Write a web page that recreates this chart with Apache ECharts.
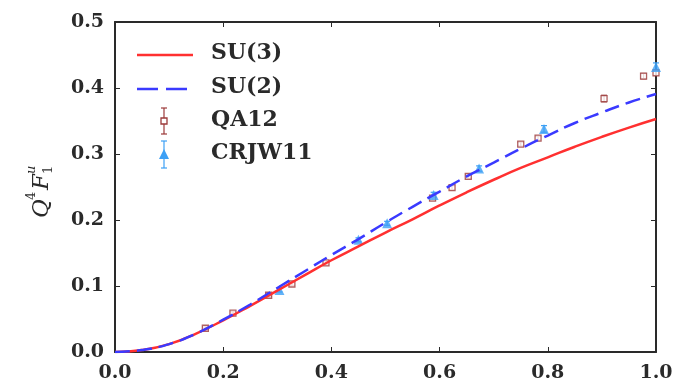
<!DOCTYPE html>
<html>
<head>
<meta charset="utf-8">
<script src="https://cdn.jsdelivr.net/npm/echarts@6/dist/echarts.min.js"></script>
<style>
  html, body { margin: 0; padding: 0; background: #fff; }
  #chart { width: 677px; height: 386px; }
</style>
</head>
<body>
<div id="chart"></div>
<script>
// Model curves sampled on a common grid of Q^2 values
const curveX = [0, 0.05, 0.1, 0.15, 0.2, 0.25, 0.3, 0.35, 0.4, 0.45, 0.5, 0.55, 0.6, 0.65, 0.7, 0.75, 0.8, 0.85, 0.9, 0.95, 1.0];
const su3 = [0, 0.003, 0.012, 0.028, 0.048, 0.070, 0.093, 0.116, 0.139, 0.160, 0.181, 0.201, 0.222, 0.242, 0.261, 0.279, 0.295, 0.311, 0.326, 0.340, 0.353];
const su2 = [0, 0.003, 0.012, 0.028, 0.049, 0.072, 0.097, 0.122, 0.147, 0.171, 0.196, 0.220, 0.243, 0.266, 0.287, 0.308, 0.328, 0.347, 0.363, 0.378, 0.391];

// Lattice results
const qa12X = [0.167, 0.218, 0.284, 0.327, 0.390, 0.587, 0.623, 0.653, 0.750, 0.782, 0.904, 0.977, 1.0];
const qa12Y = [0.036, 0.059, 0.086, 0.103, 0.135, 0.233, 0.249, 0.266, 0.315, 0.324, 0.384, 0.418, 0.423];
const qa12Err = [0.002, 0.002, 0.002, 0.002, 0.003, 0.003, 0.003, 0.003, 0.003, 0.003, 0.005, 0.004, 0.004];

const crjwX = [0.304, 0.450, 0.503, 0.589, 0.673, 0.793, 1.0];
const crjwY = [0.094, 0.170, 0.195, 0.238, 0.278, 0.338, 0.432];
const crjwErr = [0.003, 0.003, 0.003, 0.004, 0.004, 0.005, 0.006];

const xTicks = [0, 0.2, 0.4, 0.6, 0.8, 1.0];
const yTicks = [0, 0.1, 0.2, 0.3, 0.4, 0.5];

const RED = '#ff3030';
const BLUE = '#3a3aff';
const BROWN = '#9c3a3a';
const LBLUE = '#3da0f5';
const AXIS = '#2a2a2a';
const TEXT = '#2a2a2a';
const FONT = 'DejaVu Serif';

const zip = (a, b) => a.map((v, i) => [v, b[i]]);

function errorBars(color) {
  return function (params, api) {
    const x = api.value(0), y = api.value(1), e = api.value(2);
    const top = api.coord([x, y + e]);
    const bot = api.coord([x, y - e]);
    const cap = 3;
    const style = { stroke: color, lineWidth: 1.2 };
    return {
      type: 'group',
      children: [
        { type: 'line', shape: { x1: top[0], y1: top[1], x2: bot[0], y2: bot[1] }, style },
        { type: 'line', shape: { x1: top[0] - cap, y1: top[1], x2: top[0] + cap, y2: top[1] }, style },
        { type: 'line', shape: { x1: bot[0] - cap, y1: bot[1], x2: bot[0] + cap, y2: bot[1] }, style }
      ]
    };
  };
}

const fmt = v => v.toFixed(1);
const grid = { left: 115, right: 21, top: 22, bottom: 34 };

const chart = echarts.init(document.getElementById('chart'), null, { renderer: 'canvas' });

const axisCommon = {
  type: 'value',
  min: 0,
  splitLine: { show: false },
  axisLine: { show: true, onZero: false, lineStyle: { color: AXIS, width: 2 } },
  axisTick: { show: true, inside: true, length: 5, lineStyle: { color: AXIS, width: 1 } }
};

// Legend drawn as graphic elements (line samples, error-bar markers and labels)
const legendX = 137, legendTextX = 211;
const legendRows = [55, 89, 122, 155];
const legendNames = ['SU(3)', 'SU(2)', 'QA12', 'CRJW11'];
const legendGraphics = [];
legendRows.forEach((y, i) => {
  legendGraphics.push({
    type: 'text', left: legendTextX, top: y - 13,
    style: { text: legendNames[i], font: 'bold 22px "' + FONT + '"', fill: TEXT }
  });
});
legendGraphics.push(
  { type: 'line', shape: { x1: legendX, y1: legendRows[0], x2: legendX + 56, y2: legendRows[0] }, style: { stroke: RED, lineWidth: 2.5 } },
  { type: 'line', shape: { x1: legendX, y1: legendRows[1], x2: legendX + 56, y2: legendRows[1] }, style: { stroke: BLUE, lineWidth: 2.5, lineDash: [21, 8] } },
  { type: 'line', shape: { x1: 164, y1: 108, x2: 164, y2: 134 }, style: { stroke: BROWN, lineWidth: 1.2 } },
  { type: 'line', shape: { x1: 161, y1: 108, x2: 167, y2: 108 }, style: { stroke: BROWN, lineWidth: 1.2 } },
  { type: 'line', shape: { x1: 161, y1: 134, x2: 167, y2: 134 }, style: { stroke: BROWN, lineWidth: 1.2 } },
  { type: 'rect', shape: { x: 161, y: 118, width: 6, height: 6 }, style: { stroke: BROWN, fill: '#fff', lineWidth: 1.3 } },
  { type: 'line', shape: { x1: 164, y1: 141, x2: 164, y2: 168 }, style: { stroke: LBLUE, lineWidth: 1.2 } },
  { type: 'line', shape: { x1: 161, y1: 141, x2: 167, y2: 141 }, style: { stroke: LBLUE, lineWidth: 1.2 } },
  { type: 'line', shape: { x1: 161, y1: 168, x2: 167, y2: 168 }, style: { stroke: LBLUE, lineWidth: 1.2 } },
  { type: 'polygon', shape: { points: [[164, 149], [169, 159], [159, 159]] }, style: { fill: LBLUE } }
);

// Rotated y-axis title: Q^4 F_1^u
const yTitle = {
  type: 'group', x: 42, y: 186, rotation: Math.PI / 2,
  children: [
    { type: 'text', x: -32, y: 0, style: { text: 'Q', font: 'italic 23px "' + FONT + '"', fill: TEXT, verticalAlign: 'middle' } },
    { type: 'text', x: -14, y: -10, style: { text: '4', font: '13px "' + FONT + '"', fill: TEXT, verticalAlign: 'middle' } },
    { type: 'text', x: -4, y: 0, style: { text: 'F', font: 'italic 23px "' + FONT + '"', fill: TEXT, verticalAlign: 'middle' } },
    { type: 'text', x: 12, y: -10, style: { text: 'u', font: 'italic 13px "' + FONT + '"', fill: TEXT, verticalAlign: 'middle' } },
    { type: 'text', x: 12, y: 7, style: { text: '1', font: '13px "' + FONT + '"', fill: TEXT, verticalAlign: 'middle' } }
  ]
};

chart.setOption({
  animation: false,
  backgroundColor: '#fff',
  grid,
  xAxis: [
    Object.assign({}, axisCommon, {
      max: 1, interval: 0.2, position: 'bottom',
      axisLabel: { formatter: fmt, fontFamily: FONT, fontWeight: 'bold', fontSize: 19, color: TEXT, margin: 12 }
    }),
    Object.assign({}, axisCommon, {
      max: 1, interval: 0.2, position: 'top', axisLabel: { show: false }
    })
  ],
  yAxis: [
    Object.assign({}, axisCommon, {
      max: 0.5, interval: 0.1, position: 'left',
      axisLabel: { formatter: fmt, fontFamily: FONT, fontWeight: 'bold', fontSize: 19, color: TEXT, margin: 11 }
    }),
    Object.assign({}, axisCommon, {
      max: 0.5, interval: 0.1, position: 'right', axisLabel: { show: false }
    })
  ],
  graphic: legendGraphics.concat([yTitle]),
  series: [
    {
      name: 'QA12 err', type: 'custom', renderItem: errorBars(BROWN),
      data: qa12X.map((x, i) => [x, qa12Y[i], qa12Err[i]]), z: 3, silent: true
    },
    {
      name: 'QA12', type: 'scatter', symbol: 'rect', symbolSize: 6,
      itemStyle: { color: '#fff', borderColor: BROWN, borderWidth: 1.3 },
      data: zip(qa12X, qa12Y), z: 4
    },
    {
      name: 'CRJW11 err', type: 'custom', renderItem: errorBars(LBLUE),
      data: crjwX.map((x, i) => [x, crjwY[i], crjwErr[i]]), z: 3, silent: true
    },
    {
      name: 'CRJW11', type: 'scatter', symbol: 'triangle', symbolSize: 10,
      itemStyle: { color: LBLUE }, data: zip(crjwX, crjwY), z: 5
    },
    {
      name: 'SU(3)', type: 'line', smooth: true, showSymbol: false, symbol: 'none',
      lineStyle: { color: RED, width: 2.5 }, data: zip(curveX, su3), z: 6
    },
    {
      name: 'SU(2)', type: 'line', smooth: true, showSymbol: false, symbol: 'none',
      lineStyle: { color: BLUE, width: 2.5, type: [15, 7] }, data: zip(curveX, su2), z: 7
    }
  ]
});
</script>
</body>
</html>
